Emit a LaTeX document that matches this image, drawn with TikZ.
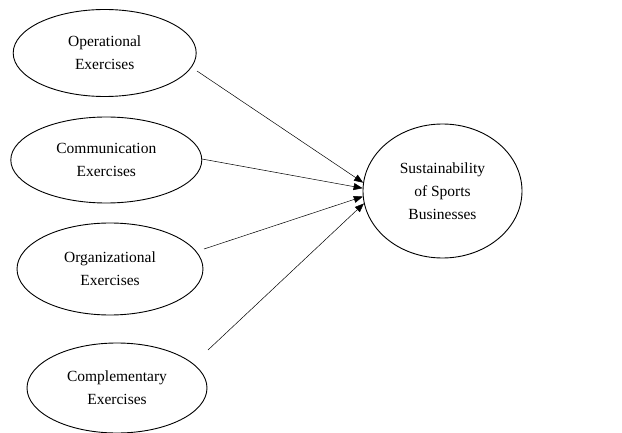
\documentclass[tikz,border=0pt]{standalone}
\usepackage{fontspec}
\setmainfont{Liberation Serif}
\usetikzlibrary{shapes.geometric,arrows.meta}
\tikzstyle{factor}=[
        draw,
        ellipse,
        line width=0.9pt,
        inner sep=0pt,
        align=center,
        font=\fontsize{15.5}{23}\selectfont
]
\tikzstyle{link}=[
        line width=0.5pt,
        -{Triangle[length=9pt,width=7pt]}
]

\begin{document}
\begin{tikzpicture}[x=1pt,y=-1pt]
                    \useasboundingbox (0,0) rectangle (622,433);

                    \node[factor, minimum width=183pt, minimum height=87pt] (oper) at (104.7,53) {Operational\\Exercises};
                    \node[factor, minimum width=191pt, minimum height=86pt] (comm) at (106.3,160) {Communication\\Exercises};
                    \node[factor, minimum width=186pt, minimum height=92pt] (orga) at (110,269) {Organizational\\Exercises};
                    \node[factor, minimum width=180pt, minimum height=90pt] (comp) at (117,388) {Complementary\\Exercises};
                    \node[factor, minimum width=159pt, minimum height=134pt] (sust) at (442.5,191) {Sustainability\\of Sports\\Businesses};

                    \coordinate (oper-out) at (197,71);
                    \coordinate (comm-out) at (202,159);
                    \coordinate (orga-out) at (204,249);
                    \coordinate (comp-out) at (208,350);

                    \draw[link] (oper-out) -- (sust.174);
                    \draw[link] (comm-out) -- (sust.178);
                    \draw[link] (orga-out) -- (sust.184);
                    \draw[link] (comp-out) -- (sust.189);

                \end{tikzpicture}
\end{document}
